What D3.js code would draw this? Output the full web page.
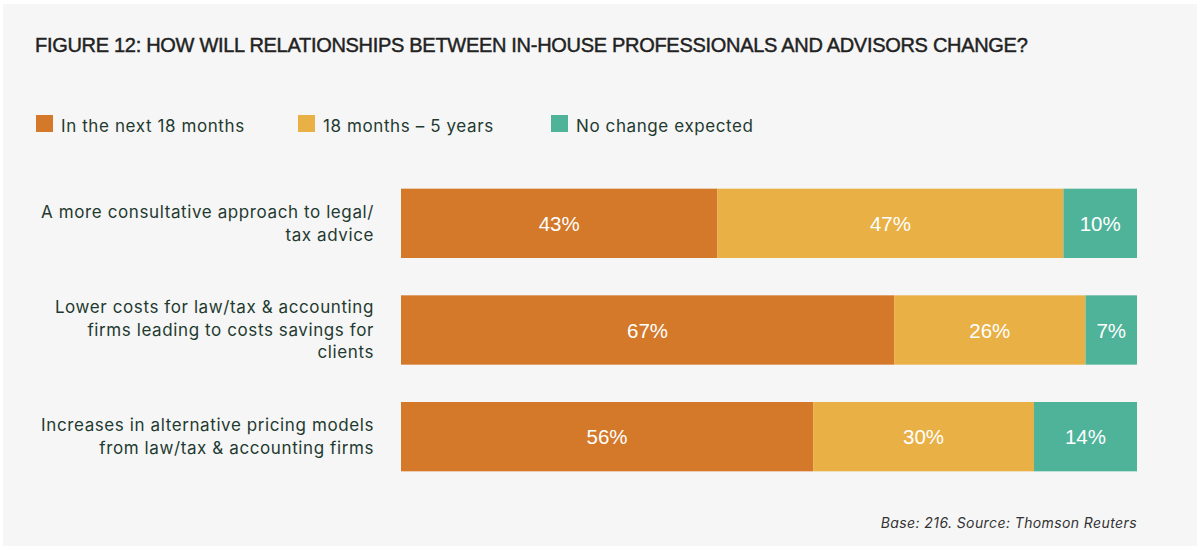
<!DOCTYPE html>
<html>
<head>
<meta charset="utf-8">
<script src="https://cdn.jsdelivr.net/npm/d3@7"></script>
<style>
  html, body { margin: 0; padding: 0; background: #ffffff; }
  svg { display: block; }
</style>
</head>
<body>
<svg id="chart" width="1203" height="548"></svg>
<script>
// Survey items (each row is split across three horizons, summing to 100%)
const categories = [
  ["A more consultative approach to legal/", "tax advice"],
  ["Lower costs for law/tax & accounting", "firms leading to costs savings for", "clients"],
  ["Increases in alternative pricing models", "from law/tax & accounting firms"]
];
const seriesNames = ["In the next 18 months", "18 months \u2013 5 years", "No change expected"];
const next18Months = [43, 67, 56];
const months18To5Years = [47, 26, 30];
const noChange = [10, 7, 14];
const seriesColors = ["#d4782a", "#e9b045", "#4fb39a"];

const title = "FIGURE 12: HOW WILL RELATIONSHIPS BETWEEN IN-HOUSE PROFESSIONALS AND ADVISORS CHANGE?";
const footnote = "Base: 216. Source: Thomson Reuters";

const svg = d3.select("#chart");

// panel background
svg.append("rect").attr("x", 3).attr("y", 4).attr("width", 1194).attr("height", 542).attr("fill", "#f6f6f6");

const textFont = "Inter, 'Noto Sans', sans-serif";
const headFont = "'Liberation Sans', Arial, sans-serif";

svg.append("text")
  .attr("x", 35).attr("y", 52)
  .attr("font-family", headFont)
  .attr("font-size", 20)
  .attr("letter-spacing", -0.3)
  .attr("fill", "#222222")
  .attr("stroke", "#222222").attr("stroke-width", 0.45)
  .text(title);

// legend
const legendX = [36, 298, 551];
const legend = svg.append("g");
seriesNames.forEach((name, i) => {
  const g = legend.append("g").attr("transform", `translate(${legendX[i]},115)`);
  g.append("rect").attr("width", 17).attr("height", 17).attr("fill", seriesColors[i]);
  g.append("text").attr("x", 25).attr("y", 17)
    .attr("font-family", textFont).attr("font-size", 17)
    .attr("letter-spacing", 0.6)
    .attr("fill", "#1f3a30").text(name);
});

// stacked data
const stackData = categories.map((c, i) => ({
  idx: i, s0: next18Months[i], s1: months18To5Years[i], s2: noChange[i]
}));
const stack = d3.stack().keys(["s0", "s1", "s2"])(stackData);

const x = d3.scaleLinear().domain([0, 100]).range([401, 1137]);
const y = d3.scaleBand().domain(d3.range(categories.length)).range([170, 490]).paddingInner(0.35).paddingOuter(0.175);

const layers = svg.append("g").selectAll("g").data(stack).join("g")
  .attr("fill", (d, i) => seriesColors[i]);

layers.selectAll("rect").data(d => d).join("rect")
  .attr("x", d => x(d[0]))
  .attr("width", d => x(d[1]) - x(d[0]))
  .attr("y", d => y(d.data.idx))
  .attr("height", y.bandwidth());

// value labels
layers.selectAll("text").data(d => d).join("text")
  .attr("x", d => (x(d[0]) + x(d[1])) / 2)
  .attr("y", d => y(d.data.idx) + y.bandwidth() / 2)
  .attr("dy", "0.38em")
  .attr("text-anchor", "middle")
  .attr("font-family", headFont)
  .attr("font-size", 20.5)
  .attr("fill", "#ffffff")
  .text(d => (d[1] - d[0]) + "%");

// category labels
const lineH = 22.5;
const labels = svg.append("g");
categories.forEach((lines, i) => {
  const cy = y(i) + y.bandwidth() / 2;
  const t = labels.append("text")
    .attr("text-anchor", "end")
    .attr("font-family", textFont)
    .attr("font-size", 17)
    .attr("letter-spacing", 0.6)
    .attr("fill", "#1f3a30");
  lines.forEach((ln, k) => {
    t.append("tspan").attr("x", 374)
      .attr("y", cy + (k - (lines.length - 1) / 2) * lineH)
      .attr("dy", "0.35em")
      .text(ln);
  });
});

svg.append("text")
  .attr("x", 1137).attr("y", 528)
  .attr("text-anchor", "end")
  .attr("font-family", textFont)
  .attr("font-size", 14).attr("font-style", "italic")
  .attr("letter-spacing", 0.4)
  .attr("fill", "#333333")
  .text(footnote);
</script>
</body>
</html>
